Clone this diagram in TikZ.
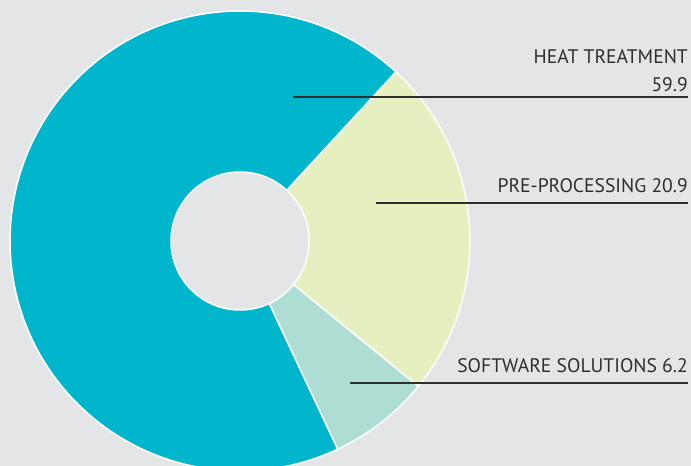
\documentclass[tikz,border=0pt]{standalone}
\usepackage{fontspec}
\setmainfont{PT Sans}
\definecolor{bggray}{HTML}{E4E5E7}
\definecolor{heatteal}{HTML}{00B6CC}
\definecolor{prelime}{HTML}{E6EFBF}
\definecolor{softmint}{HTML}{AEDDD3}
\definecolor{labelgray}{HTML}{2E2E2E}

\begin{document}
\begin{tikzpicture}[x=1pt,y=1pt,
  slice/.style={draw=white,line width=1.5pt,line join=round},
  leader/.style={draw=labelgray,line width=2pt},
  share/.style={inner sep=0pt,text=labelgray,align=right,
    font=\fontsize{19.6}{28.4}\selectfont}]
\fill[bggray](0,0)rectangle(691,466);
\useasboundingbox(0,0)rectangle(691,466);
\begin{scope}
\clip(0,0)rectangle(691,466);
\coordinate (c) at (240,225);
% slices: 59.9, 20.9, 6.2 of 87
\filldraw[slice,fill=heatteal](c)--++(47.3:230)arc[start angle=47.3,end angle=295.16,radius=230]--cycle;
\filldraw[slice,fill=prelime](c)--++(-39.18:230)arc[start angle=-39.18,end angle=47.3,radius=230]--cycle;
\filldraw[slice,fill=softmint](c)--++(-64.84:230)arc[start angle=-64.84,end angle=-39.18,radius=230]--cycle;
\filldraw[slice,fill=bggray](c)circle(69);
\end{scope}
% labels
\node[share,anchor=base east](heat)at(688,374.3){HEAT TREATMENT\\59.9};
\node[share,anchor=base east](pre)at(688,273.3){PRE-PROCESSING 20.9};
\node[share,anchor=base east](soft)at(688,93.7){SOFTWARE SOLUTIONS 6.2};
\coordinate (heatpt) at (293,369.3);
\coordinate (prept) at (376,262.7);
\coordinate (softpt) at (350,83.3);
\draw[leader](heatpt)--(heatpt-|heat.east);
\draw[leader](prept)--(prept-|pre.east);
\draw[leader](softpt)--(softpt-|soft.east);
\end{tikzpicture}
\end{document}
